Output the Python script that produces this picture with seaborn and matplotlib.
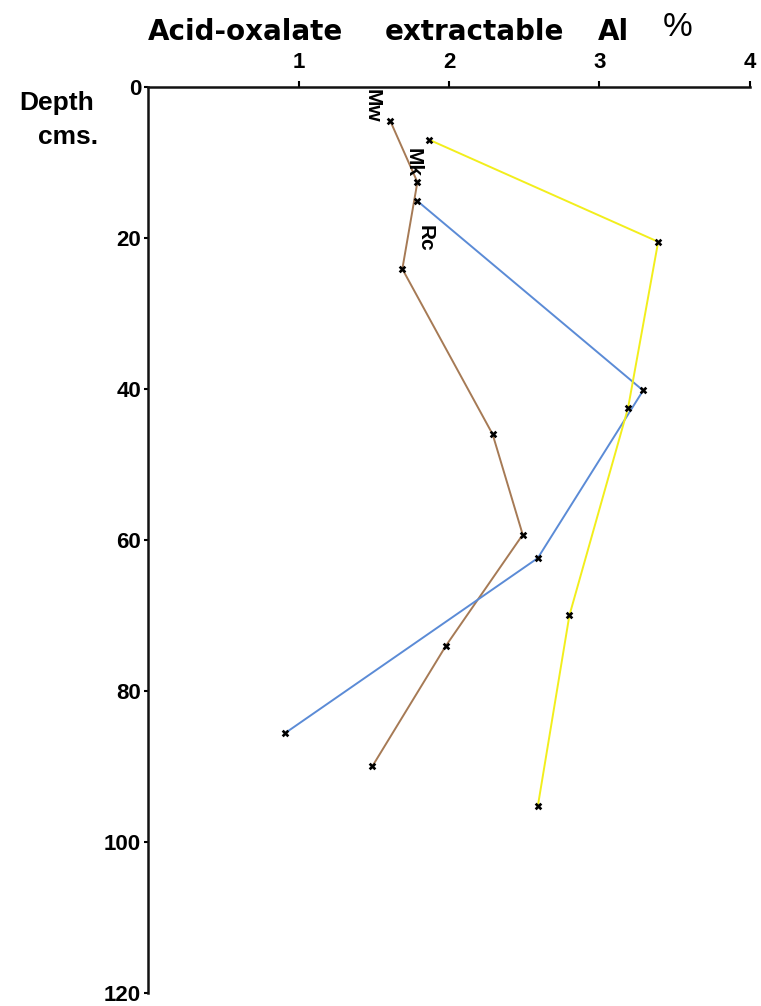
import pandas as pd
import seaborn as sns
import matplotlib.pyplot as plt

# Values (Al % vs depth in cm)
mw_al = [1.61, 1.79, 1.69, 2.29, 2.49, 1.98, 1.49]
mw_depth = [4.5, 12.6, 24.1, 46.0, 59.3, 74.0, 90.0]

rc_al = [1.79, 3.29, 2.59, 0.91]
rc_depth = [15.1, 40.2, 62.4, 85.6]

mk_al = [1.87, 3.39, 3.19, 2.80, 2.59]
mk_depth = [7.0, 20.5, 42.5, 70.0, 95.3]

profiles = ["Mw", "Rc", "Mk"]
colors = {"Mw": "#a67a55", "Rc": "#5b8bd6", "Mk": "#f2ee1c"}
x_ticks = [1, 2, 3, 4]
y_ticks = [0, 20, 40, 60, 80, 100, 120]
title_words = ["Acid-oxalate", "extractable", "Al"]

frames = []
for name, al, dep in [("Mw", mw_al, mw_depth), ("Rc", rc_al, rc_depth), ("Mk", mk_al, mk_depth)]:
    frames.append(pd.DataFrame({"profile": name, "Al": al, "Depth": dep}))
df = pd.concat(frames, ignore_index=True)

sns.set_theme(style="white")
plt.rcParams["font.family"] = ["Liberation Sans", "DejaVu Sans"]
plt.rcParams["text.color"] = "black"
plt.rcParams["xtick.color"] = "black"
plt.rcParams["ytick.color"] = "black"

fig = plt.figure(figsize=(7.61, 10.06), dpi=100)
ax = fig.add_axes([0.1945, 0.013, 0.791, 0.9005])

for name in profiles:
    sub = df[df["profile"] == name]
    sns.lineplot(data=sub, x="Al", y="Depth", sort=False, estimator=None,
                 color=colors[name], linewidth=1.4, ax=ax, legend=False)
sns.scatterplot(data=df, x="Al", y="Depth", marker="X", color="black",
                s=30, linewidth=0, ax=ax, legend=False, zorder=5)

ax.set_xlim(0, 4)
ax.set_ylim(120, 0)
ax.xaxis.tick_top()
ax.set_xticks(x_ticks)
ax.set_yticks(y_ticks)
ax.set_xticklabels([str(t) for t in x_ticks], fontsize=16, fontweight="bold")
ax.set_yticklabels([str(t) for t in y_ticks], fontsize=16, fontweight="bold")
ax.tick_params(axis="x", direction="out", length=4, width=1.5, pad=6, top=True, bottom=False)
ax.tick_params(axis="y", direction="out", length=3, width=1.5, pad=2, left=True)
ax.set_xlabel("")
ax.set_ylabel("")
for side in ["right", "bottom"]:
    ax.spines[side].set_visible(False)
for side in ["top", "left"]:
    ax.spines[side].set_linewidth(1.8)
    ax.spines[side].set_color("#111111")

# profile labels
ax.text(1.49, 2.5, "Mw", rotation=-90, fontsize=15, fontweight="bold", ha="center", va="center")
ax.text(1.76, 10.0, "Mk", rotation=-90, fontsize=15, fontweight="bold", ha="center", va="center")
ax.text(1.84, 20.0, "Rc", rotation=-90, fontsize=15, fontweight="bold", ha="center", va="center")

# title split into words, spaced as in the original
for word, xpos in zip(title_words, [0.194, 0.506, 0.786]):
    fig.text(xpos, 0.968, word, fontsize=20, fontweight="bold", family="DejaVu Sans",
             ha="left", va="center")
fig.text(0.891, 0.973, "%", fontsize=24, fontweight="light", ha="center", va="center")
fig.text(0.074, 0.898, "Depth", fontsize=19, fontweight="bold", ha="center", va="center")
fig.text(0.089, 0.864, "cms.", fontsize=19, fontweight="bold", ha="center", va="center")

fig.savefig("out.png", dpi=100)
